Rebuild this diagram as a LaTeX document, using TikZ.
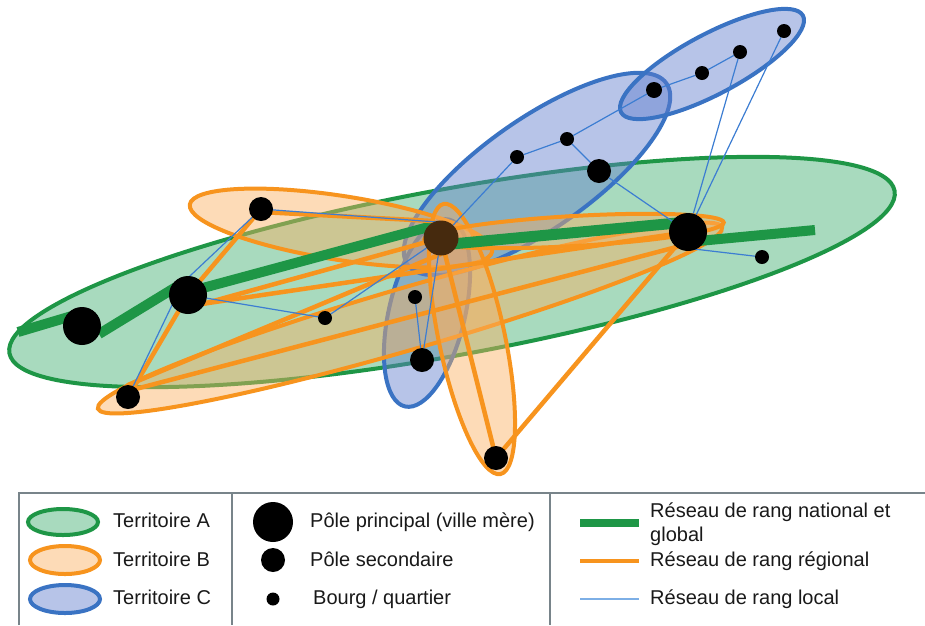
\documentclass[tikz,border=0pt]{standalone}
\usepackage{fontspec}
\setmainfont{Liberation Sans}
\usetikzlibrary{calc}
\definecolor{gA}{RGB}{30,150,70}
\definecolor{gAfill}{RGB}{168,218,190}
\definecolor{oB}{RGB}{247,148,30}
\definecolor{oBfill}{RGB}{250,175,95}
\definecolor{bC}{RGB}{58,115,195}
\definecolor{bCfill}{RGB}{95,125,205}
\definecolor{netblue}{RGB}{60,125,210}
\definecolor{legblue}{RGB}{125,175,230}
\definecolor{brownC}{RGB}{70,42,14}
\definecolor{framegray}{RGB}{120,132,138}
\definecolor{txt}{RGB}{25,25,25}
\pgfdeclarelayer{back}
\pgfdeclarelayer{mid}
\pgfsetlayers{back,mid,main}
\begin{document}
\begin{tikzpicture}[x=1pt,y=-1pt,
  terrA/.style={draw=gA, line width=4pt, fill=gAfill},
  terrB/.style={draw=oB, line width=4pt, fill=oBfill, fill opacity=0.45},
  terrC/.style={draw=bC, line width=4pt, fill=bCfill, fill opacity=0.45},
  natline/.style={draw=gA, line width=10pt},
  regline/.style={draw=oB, line width=4.5pt, line cap=round},
  locline/.style={draw=netblue, line width=1.2pt},
  pmain/.style={circle, fill=black, inner sep=0pt, minimum size=38pt},
  psec/.style={circle, fill=black, inner sep=0pt, minimum size=24pt},
  pbourg/.style={circle, fill=black, inner sep=0pt, minimum size=14pt},
  legtext/.style={text=txt, inner sep=0pt, anchor=base west, font=\fontsize{20}{24}\selectfont},
  legframe/.style={draw=framegray, line width=1.5pt}]
\useasboundingbox (0,0) rectangle (925,625);

% ---------- nodes ----------
\node[pmain] (A1) at (82,326) {};
\node[pmain] (A2) at (188,295) {};
\node[pmain, fill=brownC, minimum size=35pt] (C) at (441,238) {};
\node[pmain] (R) at (688,232) {};
\node[psec] (P1) at (261,209) {};
\node[psec] (Q1) at (128,397) {};
\node[psec] (S2) at (422,360) {};
\node[psec] (S) at (496,458) {};
\node[psec] (V) at (599,171) {};
\node[pbourg] (T1) at (325,318) {};
\node[pbourg] (T2) at (415,297) {};
\node[pbourg] (X) at (762,257) {};
\node[pbourg] (U1) at (517,157) {};
\node[pbourg] (U2) at (567,139) {};
\node[pbourg, minimum size=16pt] (W1) at (654,90) {};
\node[pbourg] (W2) at (702,73) {};
\node[pbourg] (W3) at (740,52) {};
\node[pbourg] (W4) at (784,31) {};
\coordinate (gW) at (18,332);
\coordinate (gE) at (815,230);

% ---------- territories ----------
\begin{pgfonlayer}{back}
\path[terrA, rotate around={10.4:(452,272)}] (452,272) ellipse [x radius=450, y radius=83];
\path[terrC, rotate around={35:(537,174)}] (537,174) ellipse [x radius=158, y radius=55];
\path[terrC, rotate around={76.7:(427,313)}] (427,313) ellipse [x radius=96, y radius=38];
\path[terrC, rotate around={28:(712,64)}] (712,64) ellipse [x radius=103, y radius=30];
\path[terrB, rotate around={16.2:(410,318)}] (410,318) ellipse [x radius=325, y radius=31];
\path[terrB, rotate around={-8.85:(341,228)}] (341,228) ellipse [x radius=153, y radius=32];
\path[terrB, rotate around={101.9:(472,339)}] (472,339) ellipse [x radius=138, y radius=33];
\path[terrB, rotate around={3.25:(574,231)}] (574,231) ellipse [x radius=150, y radius=15];
\end{pgfonlayer}

% ---------- networks ----------
\begin{pgfonlayer}{mid}
\draw[natline] (gW) -- ($(A1)+(0,-13)$);
\draw[natline] ($(A1)+(17,8)$) -- ($(A2)+(-12,-8)$);
\draw[natline] ($(A2)+(0,-3)$) -- ($(C)+(-5,-13)$);
\draw[natline, line width=11pt] ($(C)+(0,7)$) -- ($(R)+(0,-10)$);
\draw[natline] ($(R)+(0,10)$) -- (gE);

\draw[regline] ($(P1)+(0,3)$) -- ($(C)+(-8,-17)$);
\draw[regline] (P1) -- (A2);
\draw[regline] (A2) -- (Q1);
\draw[regline] ($(A2)+(0,13)$) -- (C);
\draw[regline] ($(A2)+(0,11)$) -- (R);
\draw[regline] ($(Q1)+(0,-12)$) -- ($(C)+(0,16)$);
\draw[regline] ($(Q1)+(0,-6)$) -- ($(R)+(0,12)$);
\draw[regline] (C) -- (S);
\draw[regline] (S) -- (R);

\draw[locline] (P1) -- ($(C)+(-4,-16)$);
\draw[locline] (P1) -- ($(A2)+(-14,-4)$);
\draw[locline] ($(A2)+(-14,6)$) -- (Q1);
\draw[locline] (A2) -- (T1);
\draw[locline] (T1) -- (C);
\draw[locline] (T2) -- (S2);
\draw[locline] (S2) -- (C);
\draw[locline] (C) -- (U1);
\draw[locline] (U1) -- (U2);
\draw[locline] (U2) -- (W1);
\draw[locline] (W1) -- (W2);
\draw[locline] (W2) -- (W3);
\draw[locline] (W3) -- (R);
\draw[locline] (U2) -- (V);
\draw[locline] (V) -- (R);
\draw[locline] (W4) -- (R);
\draw[locline] ($(R)+(6,17)$) -- (X);
\end{pgfonlayer}

% ---------- legend ----------
\draw[legframe] (19,625) -- (19,493) -- (925,493);
\draw[legframe] (232,493) -- (232,625);
\draw[legframe] (550,493) -- (550,625);

\path[terrA] (63,522) ellipse [x radius=35, y radius=13];
\path[terrB] (65,560) ellipse [x radius=35, y radius=14];
\path[terrC] (65,599) ellipse [x radius=35, y radius=14];
\node[legtext] (lA) at (113,527) {Territoire A};
\node[legtext] (lB) at (113,566) {Territoire B};
\node[legtext] (lC) at (113,604) {Territoire C};

\node[circle, fill=black, inner sep=0pt, minimum size=40pt] (kP) at (273,522) {};
\node[psec] (kS) at (273,560) {};
\node[pbourg, minimum size=13pt] (kB) at (273,599) {};
\node[legtext] (lP) at (310,527) {Pôle principal (ville mère)};
\node[legtext] (lS) at (310,566) {Pôle secondaire};
\node[legtext] (lBq) at (313,604) {Bourg / quartier};

\draw[natline, line width=8pt] (580,523) -- (639,523);
\draw[draw=oB, line width=4pt] (580,561) -- (639,561);
\draw[draw=legblue, line width=1.5pt] (580,599) -- (639,599);
\node[legtext, align=left] (lN) at (650,541) {Réseau de rang national et\\global};
\node[legtext] (lR) at (650,566) {Réseau de rang régional};
\node[legtext] (lL) at (650,604) {Réseau de rang local};
\end{tikzpicture}
\end{document}
